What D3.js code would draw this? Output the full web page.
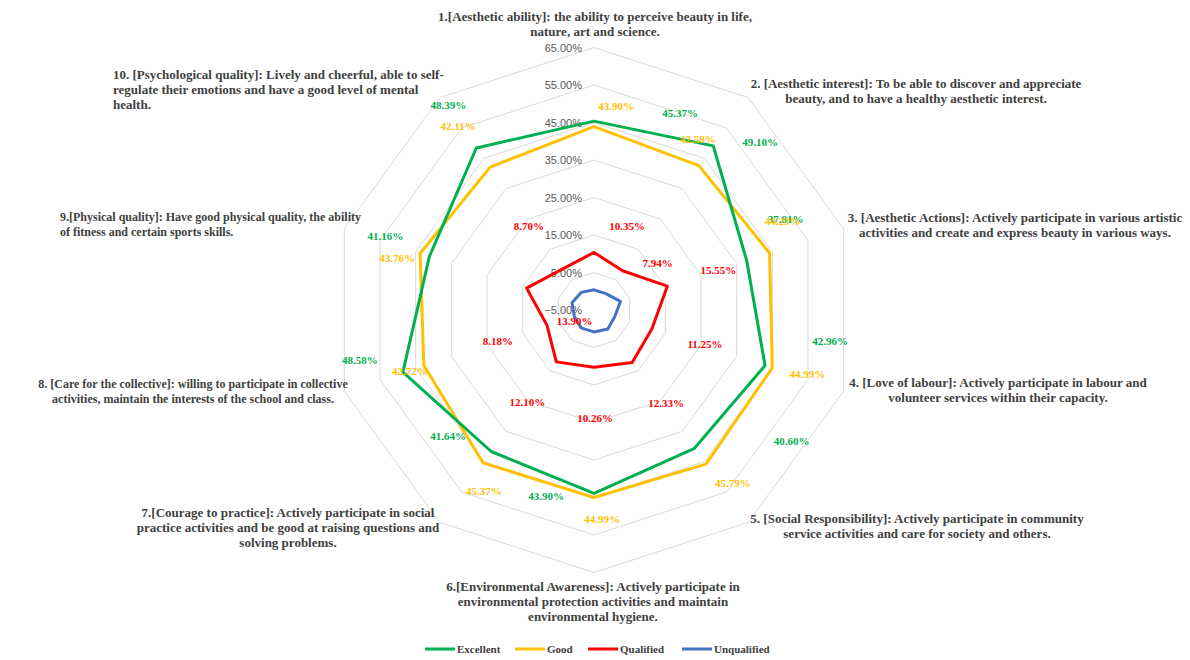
<!DOCTYPE html>
<html>
<head>
<meta charset="utf-8">
<script src="https://cdn.jsdelivr.net/npm/d3@7"></script>
<style>
  body { margin: 0; background: #fff; }
  .cat { font-family: "Liberation Serif", "Times New Roman", serif; font-weight: bold; font-size: 13px; fill: #404040; }
  .tick { font-family: "Liberation Sans", Arial, sans-serif; font-size: 11px; fill: #595959; }
  .dlabel { font-family: "Liberation Serif", serif; font-weight: bold; font-size: 11px; }
  .legend { font-family: "Liberation Serif", serif; font-weight: bold; font-size: 11px; fill: #404040; }
</style>
</head>
<body>
<div id="radar"></div>
<script>
// categories (one per spoke)
var categories = [
  ["1.[Aesthetic ability]: the ability to perceive beauty in life,", "nature, art and science."],
  ["2. [Aesthetic interest]: To be able to discover and appreciate", "beauty, and to have a healthy aesthetic interest."],
  ["3. [Aesthetic Actions]: Actively participate in various artistic", "activities and create and express beauty in various ways."],
  ["4. [Love of labour]: Actively participate in labour and", "volunteer services within their capacity."],
  ["5. [Social Responsibility]: Actively participate in community", "service activities and care for society and others."],
  ["6.[Environmental Awareness]: Actively participate in", "environmental protection activities and maintain", "environmental hygiene."],
  ["7.[Courage to practice]: Actively participate in social", "practice activities and be good at raising questions and", "solving problems."],
  ["8. [Care for the collective]: willing to participate in collective", "activities, maintain the interests of the school and class."],
  ["9.[Physical quality]: Have good physical quality, the ability", "of fitness and certain sports skills."],
  ["10. [Psychological quality]: Lively and cheerful, able to self-", "regulate their emotions and have a good level of mental", "health."]
];

var seriesNames = ["Excellent", "Good", "Qualified", "Unqualified"];
var excellent   = [45.37, 49.10, 37.81, 42.96, 40.60, 43.90, 41.64, 48.58, 41.16, 48.39];
var good        = [43.90, 42.58, 44.23, 44.99, 45.79, 44.99, 45.37, 42.72, 43.76, 42.11];
var qualified   = [10.35, 7.94, 15.55, 11.25, 12.33, 10.26, 12.10, 8.18, 13.90, 8.70];
var unqualified = [0.38, 0.38, 2.41, 0.80, 1.28, 0.85, 0.89, 0.52, 1.18, 0.80];

var tickValues = [-5, 5, 15, 25, 35, 45, 55, 65];

// layout
var width = 1190, height = 660;
var cx = 594, cy = 310, outerR = 262.5;
var colors = ["#00b050", "#ffc000", "#ff0000", "#4472c4"];

// where Excel left the data labels, relative to their points
var labelShift = [
  [[86,-8],[47,-4],[39,-41],[65,-25],[97,-7],[-48,3],[-43,-15],[-43,-12],[-44,-21],[-28,-43]],
  [[22,-21],[-1,-27],[13,-32],[35,6],[27,19],[8,22],[1,28],[-14,6],[-23,5],[-32,-41]],
  [[33,-26],[35,-8],[51,-16],[53,15],[34,40],[1,51],[-29,40],[-49,16],[48,33],[-35,-42]],
  null
];

// category label boxes: x, first line y, anchor, font size
var catPos = [
  [595, 17, "middle", 13], [916, 84, "middle", 13], [1015, 218, "middle", 13], [998, 383, "middle", 13],
  [917, 519, "middle", 13], [593, 587, "middle", 13], [288, 513, "middle", 13], [193, 384, "middle", 12],
  [60, 217, "start", 12], [113, 75, "start", 13]
];

var svg = d3.select("#radar").append("svg")
  .attr("width", width).attr("height", height);

var r = d3.scaleLinear().domain([-5, 65]).range([0, outerR]);
var angle = d3.scaleLinear().domain([0, categories.length]).range([0, 2 * Math.PI]);

function px(i, v) { return cx + r(v) * Math.sin(angle(i)); }
function py(i, v) { return cy - r(v) * Math.cos(angle(i)); }

var g = svg.append("g");

// grid rings
tickValues.slice(1).forEach(function (t) {
  var pts = categories.map(function (c, i) { return [px(i, t), py(i, t)]; });
  g.append("polygon")
    .attr("points", pts.map(function (p) { return p.join(","); }).join(" "))
    .attr("fill", "none")
    .attr("stroke", "#d9d9d9")
    .attr("stroke-width", 1);
});

// tick labels
g.selectAll("text.tick")
  .data(tickValues)
  .enter()
  .append("text")
  .attr("class", "tick")
  .attr("x", cx - 12)
  .attr("y", function (d) { return cy - r(d) + 4; })
  .attr("text-anchor", "end")
  .text(function (d) { return d3.format(".2f")(d) + "%"; });

// series lines
var allSeries = [excellent, good, qualified, unqualified];
var line = d3.lineRadial()
  .angle(function (d, i) { return angle(i); })
  .radius(function (d) { return r(d); })
  .curve(d3.curveLinearClosed);

var drawOrder = [3, 2, 1, 0];
drawOrder.forEach(function (s) {
  g.append("path")
    .attr("transform", "translate(" + cx + "," + cy + ")")
    .attr("d", line(allSeries[s]))
    .attr("fill", "none")
    .attr("stroke", colors[s])
    .attr("stroke-width", 3)
    .attr("stroke-linejoin", "round");
});

// data labels
[0, 1, 2].forEach(function (s) {
  g.selectAll("text.dl" + s)
    .data(allSeries[s])
    .enter()
    .append("text")
    .attr("class", "dlabel dl" + s)
    .attr("fill", colors[s])
    .attr("text-anchor", "middle")
    .attr("x", function (d, i) { return px(i, d) + labelShift[s][i][0]; })
    .attr("y", function (d, i) { return py(i, d) + labelShift[s][i][1] + 4; })
    .text(function (d) { return d3.format(".2f")(d) + "%"; });
});

// category labels
categories.forEach(function (lines, i) {
  var t = svg.append("text")
    .attr("class", "cat")
    .style("font-size", catPos[i][3] + "px")
    .attr("text-anchor", catPos[i][2]);
  lines.forEach(function (ln, k) {
    t.append("tspan")
      .attr("x", catPos[i][0])
      .attr("y", catPos[i][1] + k * 15 + 4)
      .text(ln);
  });
});

// legend
var legendX = [425, 515, 588, 682];
var lg = svg.append("g").attr("transform", "translate(0,649)");
seriesNames.forEach(function (name, i) {
  lg.append("line")
    .attr("x1", legendX[i]).attr("x2", legendX[i] + 30)
    .attr("y1", 0).attr("y2", 0)
    .attr("stroke", colors[i]).attr("stroke-width", 3);
  lg.append("text")
    .attr("class", "legend")
    .attr("x", legendX[i] + 32)
    .attr("y", 4)
    .text(name);
});
</script>
</body>
</html>
